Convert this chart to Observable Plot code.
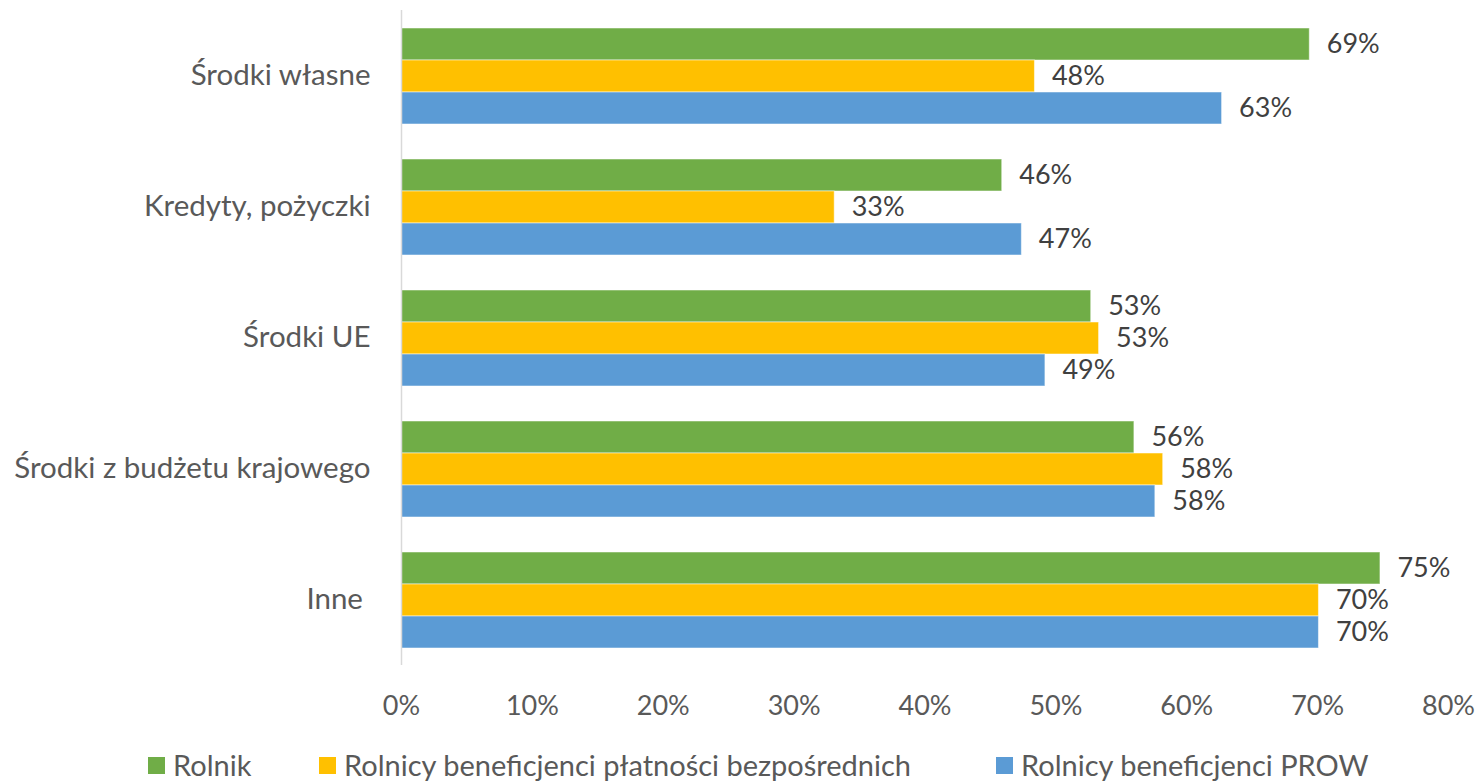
<!DOCTYPE html>
<html><head><meta charset="utf-8">
<script src="https://cdn.jsdelivr.net/npm/d3@7"></script>
<script src="https://cdn.jsdelivr.net/npm/@observablehq/plot@0.6"></script>
<style>
body{margin:0;background:#fff;font-family:Lato,sans-serif;}
#wrap{width:1479px;height:783px;overflow:hidden;position:relative;}
#legend{position:relative;height:30px;margin-top:2px;font-size:29px;line-height:30px;color:#595959;white-space:nowrap;}
#legend .item{position:absolute;top:0;display:flex;align-items:center;height:30px;}
#legend .sw{width:17px;height:17px;margin-right:8px;}
</style></head><body><div id="wrap"><div id="chart"></div><div id="legend"></div></div>
<script>
const categories = ["Środki własne","Kredyty, pożyczki","Środki UE","Środki z budżetu krajowego","Inne\u00a0"];
const seriesNames = ["Rolnik","Rolnicy beneficjenci płatności bezpośrednich","Rolnicy beneficjenci PROW"];
const colors = ["#70AD47","#FFC000","#5B9BD5"];
const rolnik    = [0.694,0.459,0.527,0.560,0.748];
const platnosci = [0.484,0.331,0.533,0.582,0.701];
const prow      = [0.627,0.474,0.492,0.576,0.701];
const xTicks = [0,0.1,0.2,0.3,0.4,0.5,0.6,0.7,0.8];
const legendLeft = [148,319,996];

const seriesValues = [rolnik, platnosci, prow];
const data = [];
categories.forEach((c,i)=>seriesNames.forEach((s,j)=>data.push({category:c, series:s, value:seriesValues[j][i]})));

const fmt = d3.format(".0%");
const chart = Plot.plot({
  width:1479, height:748,
  marginLeft:401, marginRight:31, marginTop:10, marginBottom:83,
  style:{fontFamily:"Lato, sans-serif", fontSize:"27px", color:"#595959", background:"white", overflow:"visible"},
  x:{domain:[0,0.8], ticks:xTicks, tickFormat:fmt, tickSize:0, tickPadding:30, label:null},
  fy:{domain:categories, padding:0, label:null, tickSize:0, tickPadding:31, axis:"left"},
  y:{domain:seriesNames, paddingInner:0, paddingOuter:0.5, axis:null},
  color:{domain:seriesNames, range:colors},
  marks:[
    Plot.barX(data,{x:"value", y:"series", fy:"category", fill:"series", stroke:"white", strokeOpacity:0.5, strokeWidth:1}),
    Plot.text(data,{x:"value", y:"series", fy:"category", text:d=>fmt(d.value), textAnchor:"start", dx:17, fill:"#404040"}),
    Plot.ruleX([0],{stroke:"#D9D9D9", strokeWidth:1.5})
  ]
});
d3.select(chart).selectAll('g[aria-label="fy-axis tick label"] text, g[aria-label="fy-axis tick label"]').style("font-size","29.5px");
document.getElementById("chart").appendChild(chart);

const legend = document.getElementById("legend");
seriesNames.forEach((s,i)=>{
  const it = document.createElement("div");
  it.className="item"; it.style.left = legendLeft[i]+"px";
  const sw = document.createElement("span"); sw.className="sw"; sw.style.background=colors[i];
  const tx = document.createElement("span"); tx.textContent = s;
  it.appendChild(sw); it.appendChild(tx); legend.appendChild(it);
});
</script></body></html>
